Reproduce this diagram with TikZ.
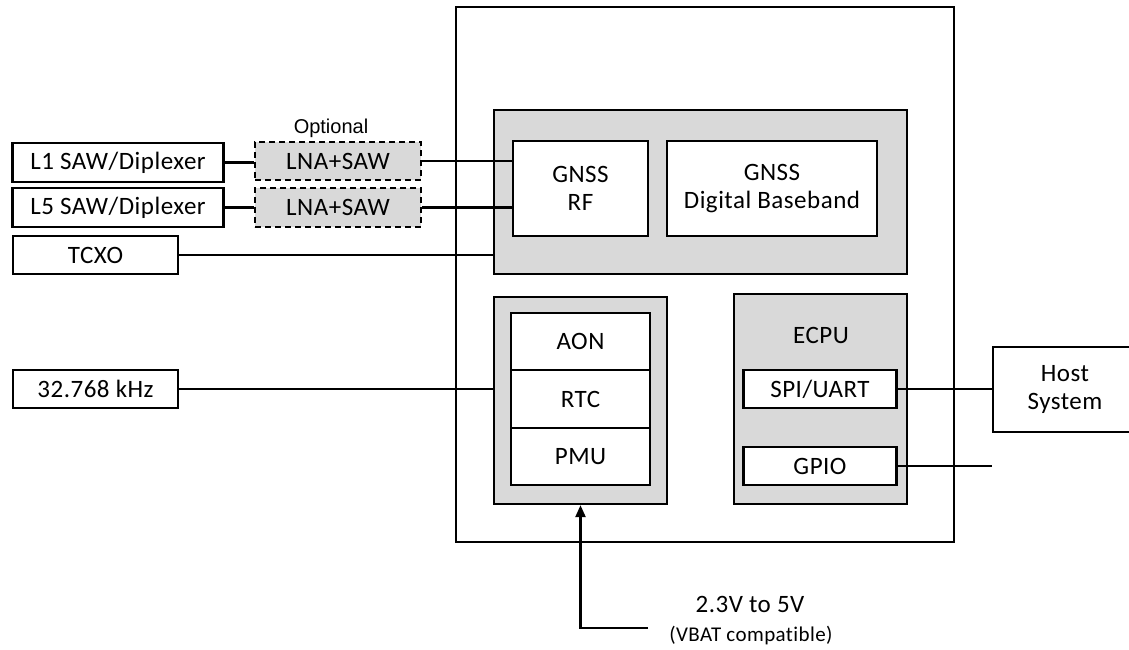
\documentclass[tikz,border=0pt]{standalone}
\usepackage{fontspec}
\setmainfont{Carlito}[LetterSpace=2, Ligatures={NoCommon}]
\newfontfamily\optfont{Liberation Sans}
\usepackage{xcolor}
\usepackage{tikz}
\usetikzlibrary{positioning,arrows.meta}

\definecolor{blockgray}{RGB}{217,217,217}

\begin{document}
\begin{tikzpicture}[
    x=1pt, y=-1pt,
    font=\fontsize{25}{28}\selectfont,
    box/.style={
        rectangle,
        draw=black,
        fill=white,
        line width=2.3pt,
        inner sep=0pt,
        align=center
    },
    block/.style={
        box,
        fill=blockgray
    },
    optbox/.style={
        box,
        fill=blockgray,
        dash pattern=on 6pt off 4pt
    },
    wire/.style={
        line width=2.3pt,
        draw=black
    },
    arrow/.style={
        -{Triangle[length=12pt,width=10pt]},
        line width=2.3pt,
        draw=black
    }
]
\useasboundingbox (0,0) rectangle (1129,649);

% Receiver chip
\node[box, minimum width=498, minimum height=535] (chip) at (705,274.5) {};
\node[block, minimum width=413, minimum height=164] (gnss) at (700.5,192) {};
\node[box, minimum width=135, minimum height=95] (rf) at (580.5,188.5) {GNSS\\RF};
\node[box, minimum width=210, minimum height=95] (dbb) at (772,188.5) {GNSS\\Digital Baseband};

% Always-on and power
\node[block, minimum width=173, minimum height=207] (pwr) at (580.5,400.5) {};
\node[box, minimum width=139, minimum height=57] (aon) at (580.5,341.5) {AON};
\node[box, minimum width=139, minimum height=58] (rtc) at (580.5,399) {RTC};
\node[box, minimum width=139, minimum height=57] (pmu) at (580.5,456.5) {PMU};

% Embedded CPU
\node[block, minimum width=173, minimum height=210] (ecpu) at (820.5,399) {};
\node (ecpulabel) at (821,335) {ECPU};
\node[box, minimum width=153, minimum height=38] (spi) at (820,389) {SPI/UART};
\node[box, minimum width=153, minimum height=38] (gpio) at (820,466) {GPIO};

% Host side
\node[box, minimum width=144, minimum height=85] (host) at (1065,389.5) {Host\\System};

% Front end and clocks
\node[box, minimum width=211, minimum height=39] (l1saw) at (118,162.5) {L1 SAW/Diplexer};
\node[box, minimum width=211, minimum height=39] (l5saw) at (118,207.5) {L5 SAW/Diplexer};
\node[box, minimum width=165, minimum height=38] (tcxo) at (95.5,255) {TCXO};
\node[box, minimum width=165, minimum height=38] (clk) at (95.5,389) {32.768 kHz};
\node[optbox, minimum width=166, minimum height=38] (lna1) at (338,161) {LNA+SAW};
\node[optbox, minimum width=166, minimum height=39] (lna2) at (338,207.5) {LNA+SAW};
\node[font=\optfont\fontsize{20}{22}\selectfont] (optional) at (331,128) {Optional};

% Supply
\coordinate (vin) at (648,628);
\node (vrange) at (750,604) {2.3V to 5V};
\node[font=\fontsize{21}{23}\selectfont] (vbat) at (751,635) {(VBAT compatible)};

% Connections
\draw[wire] (l1saw.east) -- (l1saw.east -| lna1.west);
\draw[wire] (l5saw.east) -- (l5saw.east -| lna2.west);
\draw[wire] (lna1.east) -- (lna1.east -| rf.west);
\draw[wire] (lna2.east) -- (lna2.east -| rf.west);
\draw[wire] (tcxo.east) -- (tcxo.east -| gnss.west);
\draw[wire] (clk.east) -- (clk.east -| pwr.west);
\draw[wire] (spi.east) -- (spi.east -| host.west);
\draw[wire] (gpio.east) -- (gpio.east -| host.west);
\draw[arrow] (vin) -| (pwr.south);

\end{tikzpicture}
\end{document}
